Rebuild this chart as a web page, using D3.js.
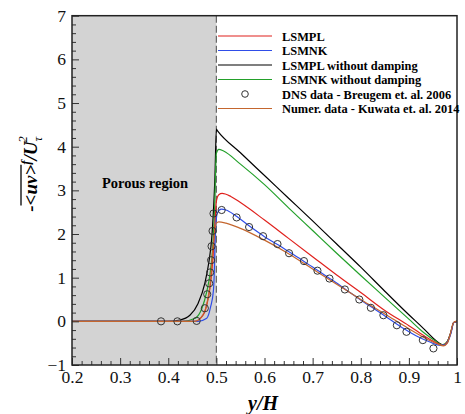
<!DOCTYPE html>
<meta charset="utf-8">
<script src="https://cdnjs.cloudflare.com/ajax/libs/d3/7.3.0/d3.min.js"></script>
<style>
  body { margin: 0; background: #fff; }
  text { font-family: "Liberation Serif", "Times New Roman", serif; }
</style>
<div id="my_dataviz"></div>
<script>

    // curves, [y/H, value]
    const lsmpl = [[0.2,0],[0.455,0],[0.473,0.15],[0.48,0.37],[0.487,0.79],[0.492,1.33],[0.496,2.0],[0.5,2.75],[0.505,2.9],[0.512,2.93],[0.53,2.86],[0.55,2.72],[0.6,2.32],[0.65,1.9],[0.7,1.48],[0.75,1.06],[0.8,0.66],[0.85,0.25],[0.9,-0.1],[0.93,-0.32],[0.955,-0.48],[0.97,-0.55],[0.98,-0.47],[0.987,-0.26],[0.993,-0.03],[1,0]]
    const lsmnk = [[0.2,0],[0.462,0],[0.48,0.07],[0.488,0.33],[0.494,0.72],[0.496,1.25],[0.497,1.71],[0.499,2.2],[0.502,2.48],[0.51,2.57],[0.52,2.55],[0.54,2.42],[0.57,2.17],[0.6,1.94],[0.63,1.74],[0.65,1.6],[0.68,1.39],[0.71,1.17],[0.74,0.95],[0.77,0.72],[0.8,0.49],[0.83,0.27],[0.86,0.05],[0.89,-0.17],[0.92,-0.36],[0.945,-0.48],[0.965,-0.55],[0.975,-0.54],[0.982,-0.44],[0.988,-0.25],[0.993,-0.03],[1,0]]
    const lsmplNoDamp = [[0.2,0],[0.40,0],[0.424,0.03],[0.445,0.14],[0.462,0.41],[0.476,0.87],[0.485,1.40],[0.490,1.86],[0.494,2.55],[0.497,3.3],[0.5,4.4],[0.502,4.37],[0.55,3.86],[0.6,3.34],[0.65,2.82],[0.7,2.3],[0.75,1.77],[0.8,1.24],[0.85,0.69],[0.9,0.15],[0.93,-0.16],[0.95,-0.38],[0.962,-0.49],[0.972,-0.54],[0.98,-0.46],[0.987,-0.26],[0.993,-0.03],[1,0]]
    const lsmnkNoDamp = [[0.2,0],[0.43,0],[0.456,0.07],[0.47,0.30],[0.48,0.68],[0.487,1.1],[0.492,1.63],[0.496,2.5],[0.5,3.85],[0.505,3.94],[0.515,3.9],[0.55,3.6],[0.6,3.13],[0.65,2.6],[0.7,2.08],[0.75,1.56],[0.8,1.05],[0.85,0.55],[0.9,0.05],[0.93,-0.25],[0.955,-0.45],[0.97,-0.54],[0.98,-0.46],[0.987,-0.26],[0.993,-0.03],[1,0]]
    const kuwata = [[0.2,0],[0.455,0],[0.472,0.15],[0.482,0.5],[0.488,0.95],[0.492,1.56],[0.496,2.0],[0.5,2.25],[0.505,2.28],[0.52,2.25],[0.55,2.13],[0.6,1.86],[0.65,1.55],[0.7,1.2],[0.75,0.85],[0.8,0.5],[0.85,0.17],[0.9,-0.17],[0.94,-0.42],[0.96,-0.52],[0.972,-0.56],[0.98,-0.5],[0.986,-0.3],[0.992,-0.05],[0.997,0],[1,0]]

    // DNS points (Breugem et al. 2006)
    const dnsX = [0.385,0.419,0.459,0.476,0.481,0.485,0.487,0.489,0.490,0.492,0.494,0.511,0.542,0.568,0.597,0.627,0.651,0.682,0.710,0.735,0.767,0.797,0.821,0.847,0.875,0.895,0.929,0.951]
    const dnsY = [0,0,0.01,0.30,0.62,0.87,1.12,1.40,1.72,2.07,2.47,2.55,2.38,2.16,1.95,1.77,1.56,1.38,1.16,0.98,0.73,0.50,0.31,0.14,-0.09,-0.24,-0.43,-0.62]

    const xTicks = [0.2, 0.3, 0.4, 0.5, 0.6, 0.7, 0.8, 0.9, 1]
    const yTicks = [-1, 0, 1, 2, 3, 4, 5, 6, 7]

    const series = [
        { name: "LSMPL", data: lsmpl, color: "#e0211d" },
        { name: "LSMNK", data: lsmnk, color: "#2f4de8" },
        { name: "LSMPL without damping", data: lsmplNoDamp, color: "#000000" },
        { name: "LSMNK without damping", data: lsmnkNoDamp, color: "#23a02a" },
        { name: "DNS data - Breugem et. al. 2006", data: null, color: "#333" },
        { name: "Numer. data - Kuwata et. al. 2014", data: kuwata, color: "#c4662e" }
    ]

    var width = 465, height = 414
    var pLeft = 72, pRight = 457, pTop = 15.7, pBottom = 365

    var svg = d3.select("#my_dataviz")
        .append("svg")
        .attr("width", width)
        .attr("height", height)

    var x = d3.scaleLinear().domain([0.2, 1]).range([pLeft, pRight])
    var y = d3.scaleLinear().domain([-1, 7]).range([pBottom, pTop])

    // porous region shading
    svg.append("rect")
        .attr("x", x(0.2)).attr("y", pTop)
        .attr("width", x(0.5) - x(0.2)).attr("height", pBottom - pTop)
        .attr("fill", "#d3d3d3")
    svg.append("line")
        .attr("x1", x(0.5)).attr("x2", x(0.5))
        .attr("y1", pTop).attr("y2", pBottom)
        .attr("stroke", "#666").attr("stroke-width", 1.2)
        .attr("stroke-dasharray", "7,3")

    svg.append("text")
        .attr("x", 145).attr("y", 188)
        .attr("text-anchor", "middle")
        .attr("font-weight", "bold")
        .attr("font-size", 14.5)
        .text("Porous region")

    var line = d3.line()
        .curve(d3.curveMonotoneX)
        .x(d => x(d[0]))
        .y(d => y(d[1]))

    // draw order: black, green, red, blue, brown on top
    var order = [2, 3, 0, 1, 5]
    order.forEach(function (i) {
        svg.append("path")
            .datum(series[i].data)
            .attr("fill", "none")
            .attr("stroke", series[i].color)
            .attr("stroke-width", 1.2)
            .attr("d", line)
    })

    svg.append("g").selectAll("circle")
        .data(d3.range(dnsX.length))
        .join("circle")
        .attr("cx", i => x(dnsX[i]))
        .attr("cy", i => y(dnsY[i]))
        .attr("r", 3.6)
        .attr("fill", "none")
        .attr("stroke", "#333")
        .attr("stroke-width", 1)

    // axes: ticks point inward, on left and bottom only
    svg.append("g")
        .attr("transform", "translate(0," + pBottom + ")")
        .call(d3.axisBottom(x).tickValues(xTicks).tickSize(-7).tickPadding(6)
            .tickFormat(d3.format("~g")))
    svg.append("g")
        .attr("transform", "translate(0," + pBottom + ")")
        .call(d3.axisBottom(x).tickValues(d3.range(0.22, 1, 0.02).filter(v => Math.abs(v * 10 - Math.round(v * 10)) > 0.01))
            .tickSize(-4).tickFormat(""))

    svg.append("g")
        .attr("transform", "translate(" + pLeft + ",0)")
        .call(d3.axisLeft(y).tickValues(yTicks).tickSize(-7).tickPadding(6))
    svg.append("g")
        .attr("transform", "translate(" + pLeft + ",0)")
        .call(d3.axisLeft(y).tickValues(d3.range(-0.8, 7, 0.2).filter(v => Math.abs(v - Math.round(v)) > 0.01))
            .tickSize(-4).tickFormat(""))

    svg.selectAll(".tick line").attr("stroke", "#333").attr("stroke-width", 1)
    svg.selectAll(".tick text")
        .attr("font-size", 17.5)
        .attr("fill", "#111")
    svg.selectAll(".domain").remove()

    svg.append("rect")
        .attr("x", pLeft).attr("y", pTop)
        .attr("width", pRight - pLeft).attr("height", pBottom - pTop)
        .attr("fill", "none")
        .attr("stroke", "#222")
        .attr("stroke-width", 1.5)

    // legend
    var legend = svg.append("g")
    series.forEach(function (s, i) {
        var ly = 36 + i * 14.5
        if (s.data) {
            legend.append("line")
                .attr("x1", 218).attr("x2", 272)
                .attr("y1", ly).attr("y2", ly)
                .attr("stroke", s.color).attr("stroke-width", 1.2)
        } else {
            legend.append("circle")
                .attr("cx", 245).attr("cy", ly).attr("r", 3.3)
                .attr("fill", "none").attr("stroke", "#333")
        }
        legend.append("text")
            .attr("x", 282).attr("y", ly + 4.5)
            .attr("font-weight", "bold")
            .attr("font-size", 12.4)
            .text(s.name)
    })

    // x title
    svg.append("text")
        .attr("x", 263).attr("y", 410)
        .attr("text-anchor", "middle")
        .attr("font-weight", "bold")
        .attr("font-style", "italic")
        .attr("font-size", 20)
        .text("y/H")

    // y title with overline
    var yt = svg.append("g").attr("transform", "translate(37,174) rotate(-90)")
    var ytext = yt.append("text")
        .attr("text-anchor", "middle")
        .attr("font-weight", "bold")
        .attr("font-style", "italic")
        .attr("font-size", 19)
    ytext.append("tspan").text("-<uv>")
    ytext.append("tspan").attr("dy", -7).attr("font-size", 13).text("f")
    ytext.append("tspan").attr("dy", 7).text("/U")
    ytext.append("tspan").attr("dy", 5).attr("font-size", 13).attr("font-weight", "normal").text("τ")
    ytext.append("tspan").attr("dx", -6).attr("dy", -15).attr("font-size", 13).attr("font-weight", "normal").text("2")
    var c1 = ytext.node().getExtentOfChar(1), c4 = ytext.node().getExtentOfChar(4)
    yt.append("line")
        .attr("x1", c1.x).attr("x2", c4.x + c4.width)
        .attr("y1", c1.y + 1).attr("y2", c1.y + 1)
        .attr("stroke", "#000").attr("stroke-width", 1.3)

</script>
